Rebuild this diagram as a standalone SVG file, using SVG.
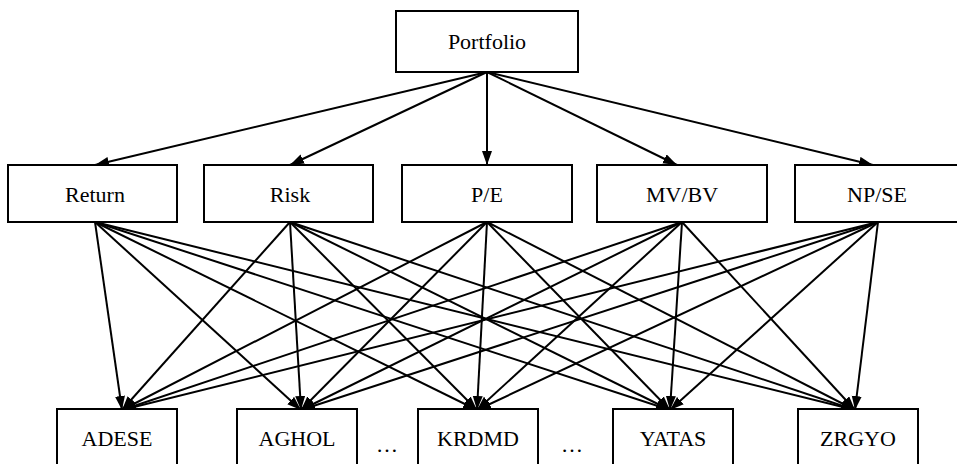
<svg xmlns="http://www.w3.org/2000/svg" width="957" height="464" viewBox="0 0 957 464">
<style>
.box{fill:#fff;stroke:#000;stroke-width:2}
.lbl{font-family:'Liberation Serif','Times New Roman','DejaVu Serif',serif;font-size:22px;fill:#000;text-anchor:middle}
.edge{stroke:#000;stroke-width:2;fill:none;marker-end:url(#ah)}
</style>
<defs>
<marker id="ah" markerUnits="userSpaceOnUse" markerWidth="16" markerHeight="12" refX="14" refY="5" orient="auto">
<path d="M0,0 L14,5 L0,10 z" fill="#000"/>
</marker>
</defs>
<rect width="957" height="464" fill="#fff"/>
<g id="connectors">
<line class="edge" x1="487" y1="72" x2="95" y2="165"/>
<line class="edge" x1="487" y1="72" x2="290" y2="165"/>
<line class="edge" x1="487" y1="72" x2="487" y2="165"/>
<line class="edge" x1="487" y1="72" x2="677" y2="165"/>
<line class="edge" x1="487" y1="72" x2="873" y2="165"/>

<line class="edge" x1="95" y1="222" x2="122" y2="410"/>
<line class="edge" x1="95" y1="222" x2="301" y2="410"/>
<line class="edge" x1="95" y1="222" x2="477" y2="410"/>
<line class="edge" x1="95" y1="222" x2="670" y2="410"/>
<line class="edge" x1="95" y1="222" x2="855" y2="410"/>

<line class="edge" x1="290" y1="222" x2="122" y2="410"/>
<line class="edge" x1="290" y1="222" x2="301" y2="410"/>
<line class="edge" x1="290" y1="222" x2="477" y2="410"/>
<line class="edge" x1="290" y1="222" x2="670" y2="410"/>
<line class="edge" x1="290" y1="222" x2="855" y2="410"/>

<line class="edge" x1="487" y1="222" x2="122" y2="410"/>
<line class="edge" x1="487" y1="222" x2="301" y2="410"/>
<line class="edge" x1="487" y1="222" x2="477" y2="410"/>
<line class="edge" x1="487" y1="222" x2="670" y2="410"/>
<line class="edge" x1="487" y1="222" x2="855" y2="410"/>

<line class="edge" x1="682" y1="222" x2="122" y2="410"/>
<line class="edge" x1="682" y1="222" x2="301" y2="410"/>
<line class="edge" x1="682" y1="222" x2="477" y2="410"/>
<line class="edge" x1="682" y1="222" x2="670" y2="410"/>
<line class="edge" x1="682" y1="222" x2="855" y2="410"/>

<line class="edge" x1="878" y1="222" x2="122" y2="410"/>
<line class="edge" x1="878" y1="222" x2="301" y2="410"/>
<line class="edge" x1="878" y1="222" x2="477" y2="410"/>
<line class="edge" x1="878" y1="222" x2="670" y2="410"/>
<line class="edge" x1="878" y1="222" x2="855" y2="410"/>
</g>
<g id="portfolio"><rect class="box" x="396" y="11" width="182" height="61"/><text class="lbl" x="487" y="49">Portfolio</text></g>
<g id="return"><rect class="box" x="8" y="165" width="169" height="57"/><text class="lbl" x="95" y="202">Return</text></g>
<g id="risk"><rect class="box" x="204" y="165" width="169" height="57"/><text class="lbl" x="290" y="202">Risk</text></g>
<g id="pe"><rect class="box" x="402" y="165" width="170" height="57"/><text class="lbl" x="487" y="202">P/E</text></g>
<g id="mvbv"><rect class="box" x="597" y="165" width="170" height="57"/><text class="lbl" x="682" y="202">MV/BV</text></g>
<g id="npse"><rect class="box" x="795" y="165" width="172" height="57"/><text class="lbl" x="877" y="202">NP/SE</text></g>
<g id="adese"><rect class="box" x="57" y="409" width="120" height="70"/><text class="lbl" x="117" y="446">ADESE</text></g>
<g id="aghol"><rect class="box" x="237" y="409" width="120" height="70"/><text class="lbl" x="297" y="446">AGHOL</text></g>
<g id="krdmd"><rect class="box" x="418" y="409" width="120" height="70"/><text class="lbl" x="478" y="446">KRDMD</text></g>
<g id="yatas"><rect class="box" x="613" y="409" width="120" height="70"/><text class="lbl" x="673" y="446">YATAS</text></g>
<g id="zrgyo"><rect class="box" x="798" y="409" width="120" height="70"/><text class="lbl" x="858" y="446">ZRGYO</text></g>
<text class="lbl" x="387" y="452">…</text>
<text class="lbl" x="572" y="452">…</text>
</svg>
